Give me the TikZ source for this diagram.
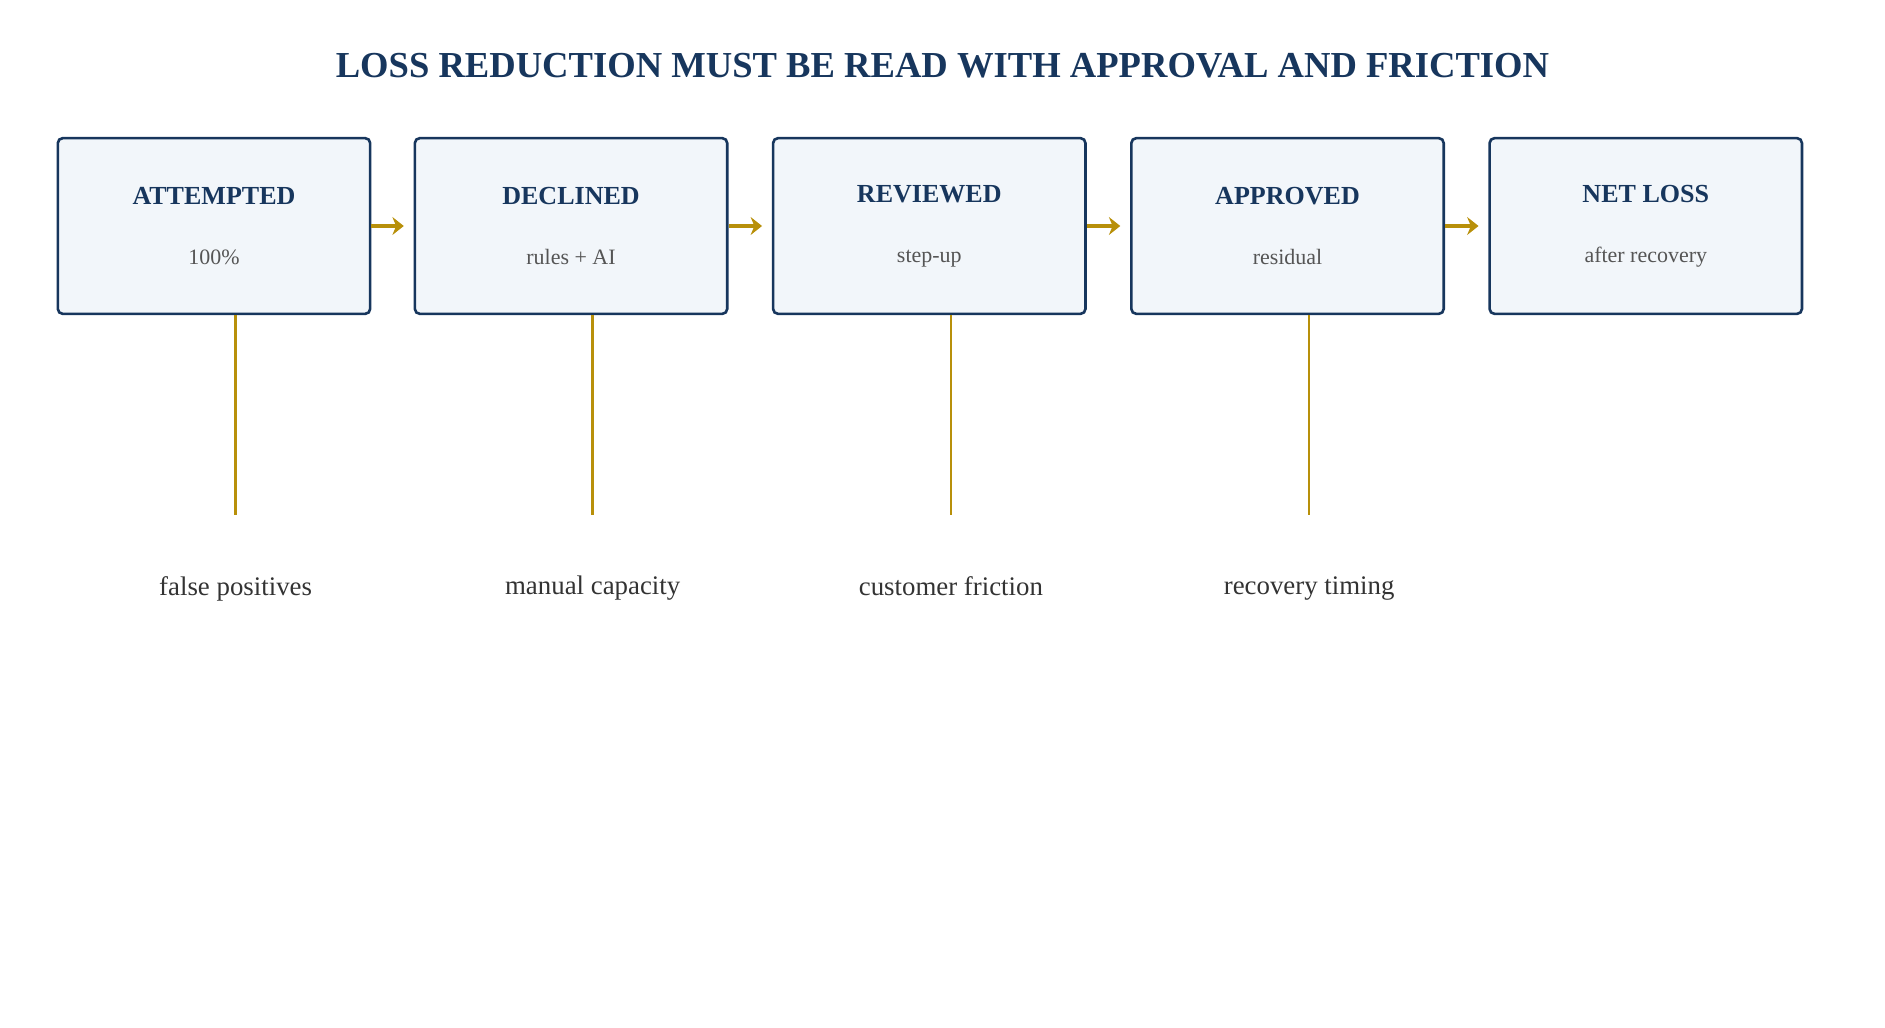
\documentclass[tikz,border=0pt]{standalone}
\usepackage{fontspec}
\setmainfont{Liberation Serif}
\usetikzlibrary{positioning, arrows.meta}
\definecolor{navy}{HTML}{17365D}
\definecolor{boxfill}{HTML}{F2F6FA}
\definecolor{gold}{HTML}{B8900A}
\definecolor{textgrey}{HTML}{555555}

\tikzset{
  stage/.style={draw=navy, fill=boxfill, line width=1.6pt, rounded corners=3pt,
                minimum width=192pt, minimum height=108pt, align=center},
  flow/.style={draw=gold, line width=3pt, -{Stealth[length=7pt,width=11pt]}},
  stem/.style={draw=gold, line width=1.5pt},
  caveat/.style={font=\fontsize{16.5}{20}\selectfont, text=black!80}
}
\newcommand{\stagetext}[2]{{\fontsize{16}{20}\selectfont\bfseries\color{navy}#1}\\[25pt]{\fontsize{13.5}{16}\selectfont\color{textgrey}#2}}

\begin{document}
\begin{tikzpicture}[x=0.739pt, y=-0.739pt]
    \useasboundingbox (0,0) rectangle (1568,855);

    % Title
    \node[font=\fontsize{22.5}{25}\selectfont\bfseries, text=navy] (title) at (784,55)
        {LOSS REDUCTION MUST BE READ WITH APPROVAL AND FRICTION};

    % Add the stages
    \node[stage] (att) at (178,188)  {\stagetext{ATTEMPTED}{100\%}};
    \node[stage] (dec) at (475,188)  {\stagetext{DECLINED}{rules + AI}};
    \node[stage] (rev) at (773,188)  {\stagetext{REVIEWED}{step-up}};
    \node[stage] (app) at (1071,188) {\stagetext{APPROVED}{residual}};
    \node[stage] (net) at (1369,188) {\stagetext{NET LOSS}{after recovery}};

    % Connect the stages
    \draw[flow] (att.east) -- ([xshift=-6pt]dec.west);
    \draw[flow] (dec.east) -- ([xshift=-6pt]rev.west);
    \draw[flow] (rev.east) -- ([xshift=-6pt]app.west);
    \draw[flow] (app.east) -- ([xshift=-6pt]net.west);

    % Stems and caveats
    \foreach \s/\lbl/\name in {att/false positives/fp, dec/manual capacity/mc,
                               rev/customer friction/cf, app/recovery timing/rt} {
        \coordinate (\name-end) at ([xshift=13.3pt, yshift=-123pt]\s.south);
        \draw[stem] ([xshift=13.3pt]\s.south) -- (\name-end);
        \node[caveat, below=34pt of \name-end] (\name) {\lbl};
    }
\end{tikzpicture}
\end{document}
